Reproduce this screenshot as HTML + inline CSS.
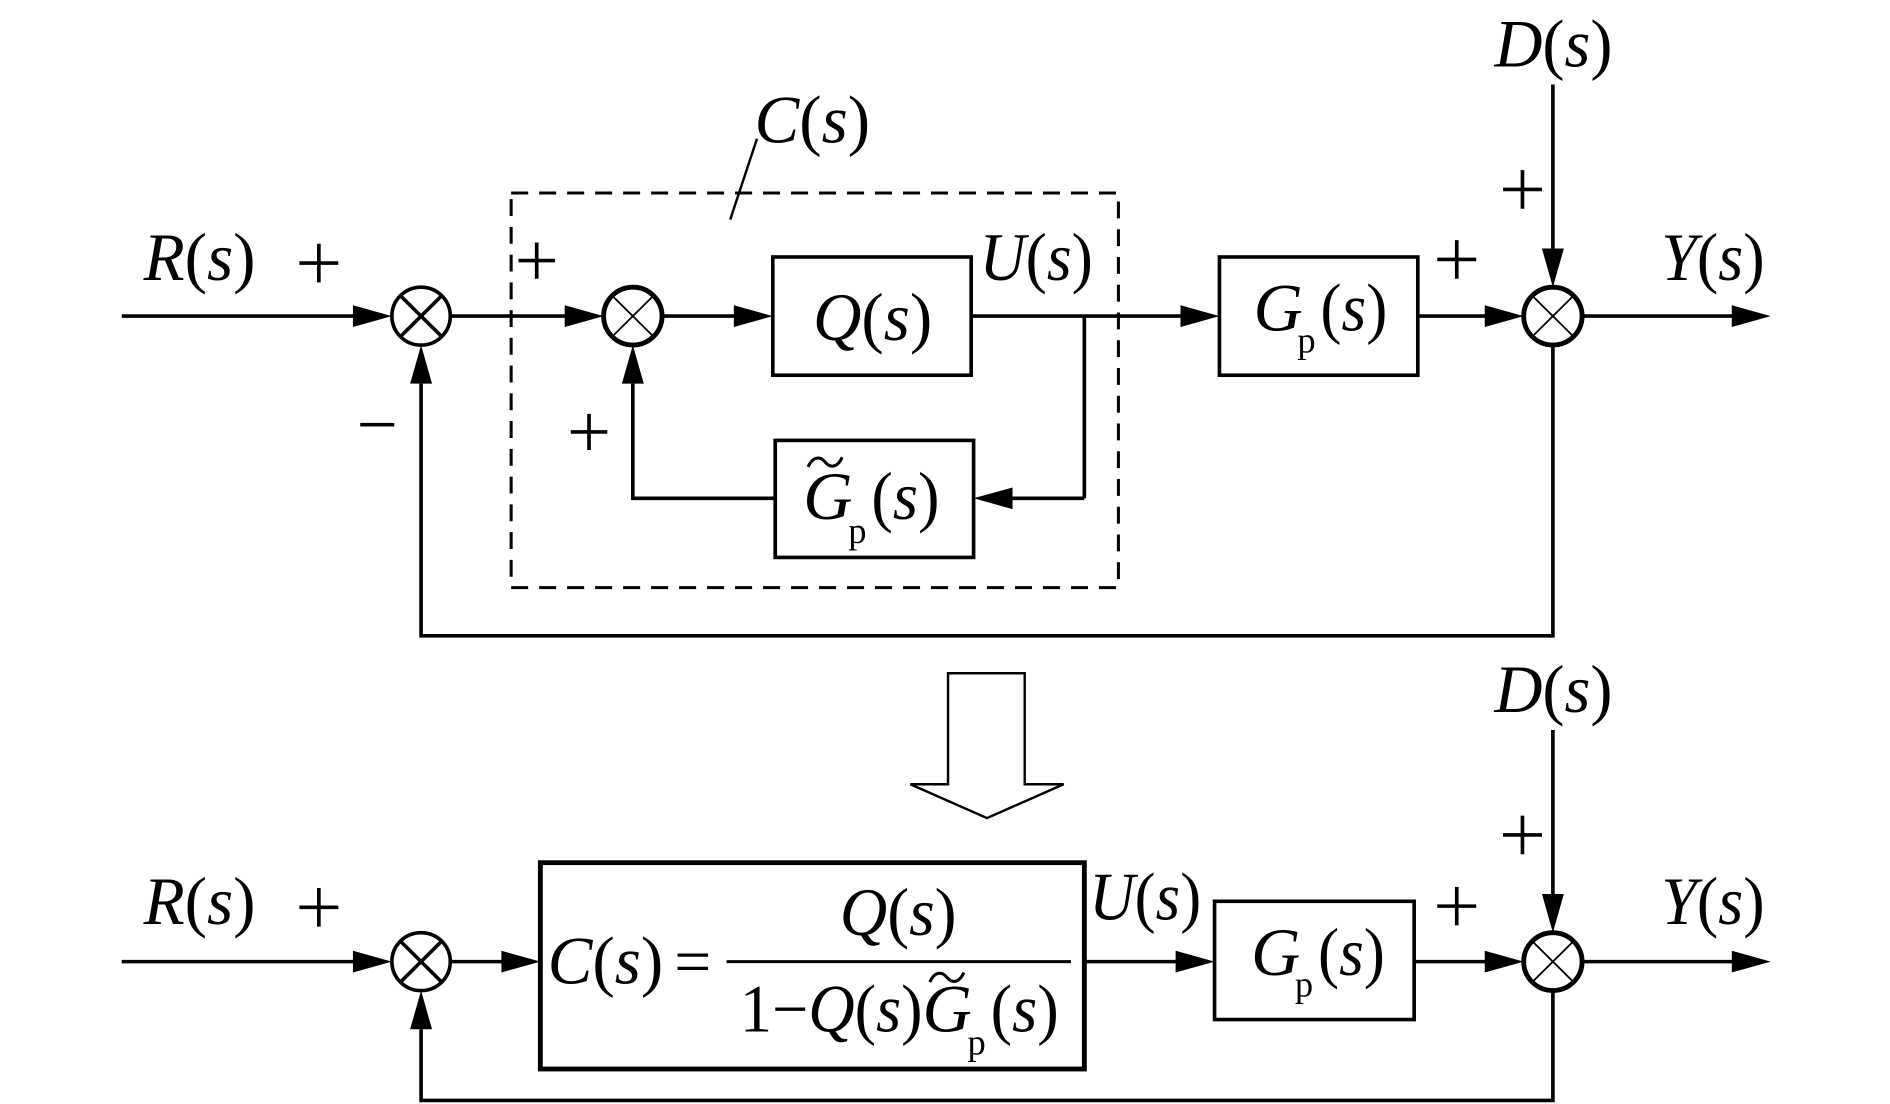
<!DOCTYPE html>
<html><head><meta charset="utf-8"><style>
html,body{margin:0;padding:0;background:#fff;}
svg{display:block;}
text{font-family:"Liberation Serif",serif;fill:#000;}
</style></head><body>
<svg width="1890" height="1104" viewBox="0 0 1553 915" preserveAspectRatio="none" xmlns="http://www.w3.org/2000/svg">
<g stroke="#000" stroke-width="3" fill="none">
<line x1="100" y1="262" x2="300" y2="262"/>
<circle cx="346" cy="262" r="24"/>
<line x1="329" y1="245" x2="363" y2="279"/><line x1="363" y1="245" x2="329" y2="279"/>
<line x1="370" y1="262" x2="470" y2="262"/>
<circle cx="520" cy="262" r="24" stroke-width="4"/>
<line x1="503" y1="245" x2="537" y2="279" stroke-width="1.5"/><line x1="537" y1="245" x2="503" y2="279" stroke-width="1.5"/>
<line x1="544" y1="262" x2="605" y2="262"/>
<rect x="635" y="213" width="163" height="98"/>
<line x1="798" y1="262" x2="972" y2="262"/>
<rect x="1002" y="213" width="163" height="98"/>
<line x1="1165" y1="262" x2="1225" y2="262"/>
<circle cx="1276" cy="262" r="24" stroke-width="4"/>
<line x1="1259" y1="245" x2="1293" y2="279" stroke-width="1.5"/><line x1="1293" y1="245" x2="1259" y2="279" stroke-width="1.5"/>
<line x1="1300" y1="262" x2="1425" y2="262"/>
<line x1="1276" y1="70" x2="1276" y2="210"/>
<line x1="891" y1="262" x2="891" y2="413"/>
<line x1="891" y1="413" x2="830" y2="413"/>
<rect x="637" y="365" width="163" height="97"/>
<polyline points="637,413 520,413 520,318"/>
<polyline points="1276,286 1276,527 346,527 346,318"/>
<rect x="420" y="160" width="499" height="327" stroke-dasharray="14,9" stroke-width="2.5"/>
<line x1="622" y1="115" x2="600" y2="182" stroke-width="2"/>
<polygon points="779,558 842,558 842,650 874,650 811,678 748,650 779,650" stroke-width="2"/>
<line x1="100" y1="797" x2="300" y2="797"/>
<circle cx="346" cy="797" r="24"/>
<line x1="329" y1="780" x2="363" y2="814"/><line x1="363" y1="780" x2="329" y2="814"/>
<line x1="370" y1="797" x2="415" y2="797"/>
<rect x="444" y="715" width="447" height="171" stroke-width="4"/>
<line x1="597" y1="797" x2="880" y2="797" stroke-width="2.5"/>
<line x1="891" y1="797" x2="970" y2="797"/>
<rect x="998" y="747" width="164" height="98"/>
<line x1="1162" y1="797" x2="1225" y2="797"/>
<circle cx="1276" cy="797" r="24" stroke-width="4"/>
<line x1="1259" y1="780" x2="1293" y2="814" stroke-width="1.5"/><line x1="1293" y1="780" x2="1259" y2="814" stroke-width="1.5"/>
<line x1="1300" y1="797" x2="1425" y2="797"/>
<line x1="1276" y1="605" x2="1276" y2="745"/>
<polyline points="1276,821 1276,912 346,912 346,853"/>
<!-- tildes -->
<path d="M664,387 C668,378 674,378 678,383 C682,388 688,388 692,379" stroke-width="2.5"/>
<path d="M764,814 C768,805 774,805 778,810 C782,815 788,815 792,806" stroke-width="2.5"/>
<!-- plus / minus signs -->
<path d="M246,218 H278 M262,202 V234"/>
<path d="M426,216 H456 M441,201 V231"/>
<path d="M296,352 H324"/>
<path d="M469,358 H499 M484,343 V373"/>
<path d="M1181,215 H1213 M1197,199 V231"/>
<path d="M1235,157 H1267 M1251,141 V173"/>
<path d="M246,752 H278 M262,736 V768"/>
<path d="M1181,751 H1213 M1197,735 V767"/>
<path d="M1235,692 H1267 M1251,676 V708"/>
</g>
<g fill="#000">
<polygon points="322,262 290,253 290,271"/>
<polygon points="496,262 464,253 464,271"/>
<polygon points="635,262 603,253 603,271"/>
<polygon points="1002,262 970,253 970,271"/>
<polygon points="1252,262 1220,253 1220,271"/>
<polygon points="1455,262 1423,253 1423,271"/>
<polygon points="1276,238 1267,206 1285,206"/>
<polygon points="800,413 832,404 832,422"/>
<polygon points="520,286 511,318 529,318"/>
<polygon points="346,286 337,318 355,318"/>
<polygon points="322,797 290,788 290,806"/>
<polygon points="444,797 412,788 412,806"/>
<polygon points="998,797 966,788 966,806"/>
<polygon points="1252,797 1220,788 1220,806"/>
<polygon points="1455,797 1423,788 1423,806"/>
<polygon points="1276,773 1267,741 1285,741"/>
<polygon points="346,821 337,853 355,853"/>
</g>
<g font-size="56">
<text x="118" y="232" textLength="92" lengthAdjust="spacingAndGlyphs"><tspan font-style="italic">R</tspan>(<tspan font-style="italic">s</tspan>)</text>
<text x="620" y="118" textLength="95" lengthAdjust="spacingAndGlyphs"><tspan font-style="italic">C</tspan>(<tspan font-style="italic">s</tspan>)</text>
<text x="668" y="282" textLength="98" lengthAdjust="spacingAndGlyphs"><tspan font-style="italic">Q</tspan>(<tspan font-style="italic">s</tspan>)</text>
<text x="805" y="232" textLength="93" lengthAdjust="spacingAndGlyphs"><tspan font-style="italic">U</tspan>(<tspan font-style="italic">s</tspan>)</text>
<text x="1030" y="274" font-style="italic">G</text>
<text x="1066" y="292" font-size="30">p</text>
<text x="1085" y="274" textLength="55" lengthAdjust="spacingAndGlyphs">(<tspan font-style="italic">s</tspan>)</text>
<text x="1228" y="55" textLength="97" lengthAdjust="spacingAndGlyphs"><tspan font-style="italic">D</tspan>(<tspan font-style="italic">s</tspan>)</text>
<text x="1365" y="232" textLength="85" lengthAdjust="spacingAndGlyphs"><tspan font-style="italic">Y</tspan>(<tspan font-style="italic">s</tspan>)</text>
<text x="660" y="430" font-style="italic">G</text>
<text x="697" y="450" font-size="30">p</text>
<text x="716" y="430" textLength="56" lengthAdjust="spacingAndGlyphs">(<tspan font-style="italic">s</tspan>)</text>
<text x="118" y="766" textLength="92" lengthAdjust="spacingAndGlyphs"><tspan font-style="italic">R</tspan>(<tspan font-style="italic">s</tspan>)</text>
<text x="1228" y="590" textLength="97" lengthAdjust="spacingAndGlyphs"><tspan font-style="italic">D</tspan>(<tspan font-style="italic">s</tspan>)</text>
<text x="1365" y="766" textLength="85" lengthAdjust="spacingAndGlyphs"><tspan font-style="italic">Y</tspan>(<tspan font-style="italic">s</tspan>)</text>
<text x="895" y="762" textLength="92" lengthAdjust="spacingAndGlyphs"><tspan font-style="italic">U</tspan>(<tspan font-style="italic">s</tspan>)</text>
<text x="1028" y="808" font-style="italic">G</text>
<text x="1064" y="826" font-size="30">p</text>
<text x="1083" y="808" textLength="55" lengthAdjust="spacingAndGlyphs">(<tspan font-style="italic">s</tspan>)</text>
<text x="450" y="815" textLength="95" lengthAdjust="spacingAndGlyphs"><tspan font-style="italic">C</tspan>(<tspan font-style="italic">s</tspan>)</text>
<text x="554" y="815" font-size="54">=</text>
<text x="690" y="775" textLength="96" lengthAdjust="spacingAndGlyphs"><tspan font-style="italic">Q</tspan>(<tspan font-style="italic">s</tspan>)</text>
<text x="608" y="855" textLength="150" lengthAdjust="spacingAndGlyphs">1−<tspan font-style="italic">Q</tspan>(<tspan font-style="italic">s</tspan>)</text>
<text x="758" y="855" font-style="italic">G</text>
<text x="795" y="874" font-size="30">p</text>
<text x="814" y="855" textLength="56" lengthAdjust="spacingAndGlyphs">(<tspan font-style="italic">s</tspan>)</text>
</g>
</svg>
</body></html>
